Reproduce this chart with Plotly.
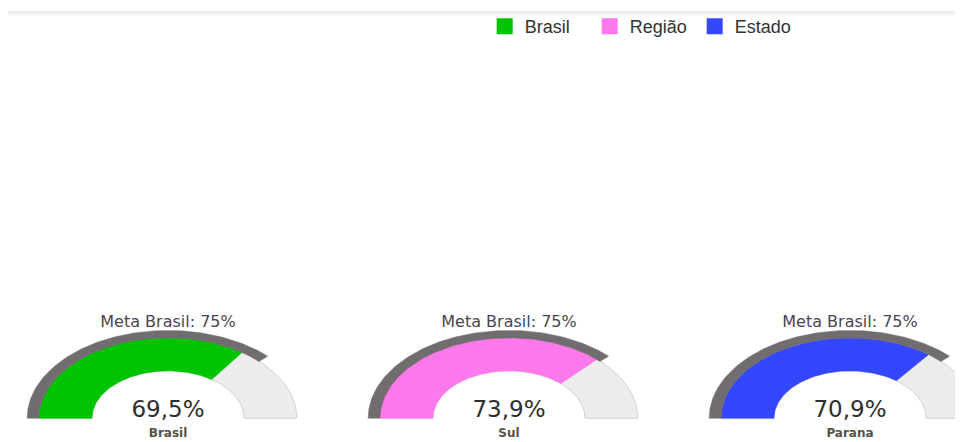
import numpy as np
import plotly.graph_objects as go

# ---- data ----
categories = ["Brasil", "Sul", "Parana"]
values = [69.5, 73.9, 70.9]
meta_value = 75
meta_label = "Meta Brasil: 75%"
legend_names = ["Brasil", "Região", "Estado"]
colors = ["#00c400", "#ff78ec", "#3447ff"]

# ---- style / geometry ----
R_IN, R_OUT, R_META = 0.223, 0.378, 0.413
PX_X, PX_Y = 341.0, 214.0
W, H = 963, 442
OFF = 8  # page body margin
CX0, BASE = 168.0 - OFF, 418.0 - OFF


def band(cx, v0, v1, r0, r1, n=120):
    a = np.pi - np.linspace(v0, v1, n) / 100.0 * np.pi
    xo = cx + r1 * np.cos(a)
    yo = r1 * np.sin(a)
    xi = cx + r0 * np.cos(a[::-1])
    yi = r0 * np.sin(a[::-1])
    return np.concatenate([xo, xi, xo[:1]]), np.concatenate([yo, yi, yo[:1]])


fig = go.Figure()

for i, (cat, v, col) in enumerate(zip(categories, values, colors)):
    x, y = band(i, 0, 100, R_IN, R_OUT)
    fig.add_trace(go.Scatter(x=x, y=y, fill="toself", fillcolor="#ececec",
                             line=dict(color="#d2d2d2", width=1), mode="lines",
                             hoverinfo="skip", showlegend=False))
    x, y = band(i, 0, v, R_IN, R_OUT)
    fig.add_trace(go.Scatter(x=x, y=y, fill="toself", fillcolor=col,
                             line=dict(color=col, width=0.5), mode="lines",
                             hoverinfo="skip", showlegend=False))
    x, y = band(i, 0, meta_value, R_OUT, R_META)
    fig.add_trace(go.Scatter(x=x, y=y, fill="toself", fillcolor="#706c70",
                             line=dict(color="#706c70", width=0.5), mode="lines",
                             hoverinfo="skip", showlegend=False))

idx = list(range(len(categories)))
fig.add_trace(go.Scatter(x=idx, y=[0.035] * len(idx), mode="text",
                         text=[f"{v:.1f}".replace(".", ",") + "%" for v in values],
                         textfont=dict(family="DejaVu Sans", size=23, color="#2e2e2e"),
                         hoverinfo="skip", showlegend=False))
fig.add_trace(go.Scatter(x=idx, y=[-0.073] * len(idx), mode="text",
                         text=categories,
                         textfont=dict(family="DejaVu Sans", size=12, color="#55524a",
                                       weight="bold"),
                         hoverinfo="skip", showlegend=False))
fig.add_trace(go.Scatter(x=idx, y=[0.449] * len(idx), mode="text",
                         text=[meta_label] * len(idx),
                         textfont=dict(family="DejaVu Sans", size=16, color="#4a4450"),
                         hoverinfo="skip", showlegend=False))

for name, col in zip(legend_names, colors):
    fig.add_trace(go.Scatter(x=[None], y=[None], mode="markers", name=name,
                             marker=dict(symbol="square", size=18, color=col)))

x0 = -CX0 / PX_X
fig.update_xaxes(range=[x0, x0 + W / PX_X], visible=False, fixedrange=True)
fig.update_yaxes(range=[-(H - BASE) / PX_Y, BASE / PX_Y], visible=False, fixedrange=True)

fig.update_layout(
    width=W, height=H,
    margin=dict(l=0, r=0, t=0, b=0),
    paper_bgcolor="white", plot_bgcolor="white",
    legend=dict(orientation="h", x=0.495, xanchor="left", y=1.007, yanchor="top",
                font=dict(family="Liberation Sans", size=18, color="#333333"),
                itemwidth=30, entrywidth=60, entrywidthmode="pixels",
                bgcolor="rgba(0,0,0,0)"),
    shapes=[
        dict(type="rect", xref="paper", yref="paper", x0=0, x1=1, y0=1 - 2 / H, y1=1,
             fillcolor="#ececec", line=dict(width=0), layer="below"),
        dict(type="rect", xref="paper", yref="paper", x0=0, x1=1,
             y0=1 - 4 / H, y1=1 - 2 / H,
             fillcolor="#f4f4f4", line=dict(width=0), layer="below"),
    ],
)

fig.write_html("out.html")
